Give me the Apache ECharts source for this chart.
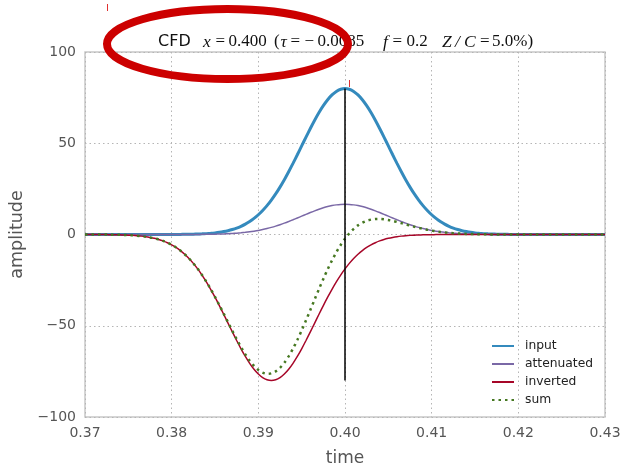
<!DOCTYPE html>
<html>
<head>
<meta charset="utf-8">
<script src="https://cdn.jsdelivr.net/npm/echarts@6/dist/echarts.min.js"></script>
<style>
  html, body { margin: 0; padding: 0; background: #fff; }
  #chart { width: 623px; height: 470px; }
</style>
</head>
<body>
<div id="chart"></div>
<script>
// sample times (s), every 0.0005
const times = [
  0.3700, 0.3705, 0.3710, 0.3715, 0.3720, 0.3725, 0.3730, 0.3735, 0.3740, 0.3745,
  0.3750, 0.3755, 0.3760, 0.3765, 0.3770, 0.3775, 0.3780, 0.3785, 0.3790, 0.3795,
  0.3800, 0.3805, 0.3810, 0.3815, 0.3820, 0.3825, 0.3830, 0.3835, 0.3840, 0.3845,
  0.3850, 0.3855, 0.3860, 0.3865, 0.3870, 0.3875, 0.3880, 0.3885, 0.3890, 0.3895,
  0.3900, 0.3905, 0.3910, 0.3915, 0.3920, 0.3925, 0.3930, 0.3935, 0.3940, 0.3945,
  0.3950, 0.3955, 0.3960, 0.3965, 0.3970, 0.3975, 0.3980, 0.3985, 0.3990, 0.3995,
  0.4000, 0.4005, 0.4010, 0.4015, 0.4020, 0.4025, 0.4030, 0.4035, 0.4040, 0.4045,
  0.4050, 0.4055, 0.4060, 0.4065, 0.4070, 0.4075, 0.4080, 0.4085, 0.4090, 0.4095,
  0.4100, 0.4105, 0.4110, 0.4115, 0.4120, 0.4125, 0.4130, 0.4135, 0.4140, 0.4145,
  0.4150, 0.4155, 0.4160, 0.4165, 0.4170, 0.4175, 0.4180, 0.4185, 0.4190, 0.4195,
  0.4200, 0.4205, 0.4210, 0.4215, 0.4220, 0.4225, 0.4230, 0.4235, 0.4240, 0.4245,
  0.4250, 0.4255, 0.4260, 0.4265, 0.4270, 0.4275, 0.4280, 0.4285, 0.4290, 0.4295,
  0.4300
]
const inputValues = [
  0, 0, 0, 0, 0, 0, 0, 0, 0, 0,
  0, 0, 0, 0, 0, 0, 0, 0, 0.01, 0.02,
  0.03, 0.04, 0.06, 0.09, 0.12, 0.18, 0.25, 0.35, 0.48, 0.66,
  0.89, 1.19, 1.59, 2.09, 2.72, 3.51, 4.49, 5.68, 7.11, 8.82,
  10.83, 13.16, 15.83, 18.86, 22.24, 25.97, 30.02, 34.37, 38.94, 43.69,
  48.52, 53.36, 58.09, 62.62, 66.83, 70.60, 73.85, 76.48, 78.42, 79.60,
  80.00, 79.60, 78.42, 76.48, 73.85, 70.60, 66.83, 62.62, 58.09, 53.36,
  48.52, 43.69, 38.94, 34.37, 30.02, 25.97, 22.24, 18.86, 15.83, 13.16,
  10.83, 8.82, 7.11, 5.68, 4.49, 3.51, 2.72, 2.09, 1.59, 1.19,
  0.89, 0.66, 0.48, 0.35, 0.25, 0.18, 0.12, 0.09, 0.06, 0.04,
  0.03, 0.02, 0.01, 0, 0, 0, 0, 0, 0, 0,
  0, 0, 0, 0, 0, 0, 0, 0, 0, 0,
  0
]
const attenuatedValues = [
  0, 0, 0, 0, 0, 0, 0, 0, 0, 0,
  0, 0, 0, 0, 0, 0, 0, 0, 0, 0,
  0.01, 0.01, 0.01, 0.02, 0.02, 0.04, 0.05, 0.07, 0.10, 0.14,
  0.18, 0.25, 0.33, 0.43, 0.56, 0.73, 0.93, 1.18, 1.47, 1.83,
  2.24, 2.72, 3.28, 3.90, 4.60, 5.38, 6.21, 7.11, 8.06, 9.04,
  10.04, 11.05, 12.02, 12.96, 13.83, 14.61, 15.29, 15.83, 16.23, 16.48,
  16.56, 16.48, 16.23, 15.83, 15.29, 14.61, 13.83, 12.96, 12.02, 11.05,
  10.04, 9.04, 8.06, 7.11, 6.21, 5.38, 4.60, 3.90, 3.28, 2.72,
  2.24, 1.83, 1.47, 1.18, 0.93, 0.73, 0.56, 0.43, 0.33, 0.25,
  0.18, 0.14, 0.10, 0.07, 0.05, 0.04, 0.02, 0.02, 0.01, 0.01,
  0.01, 0, 0, 0, 0, 0, 0, 0, 0, 0,
  0, 0, 0, 0, 0, 0, 0, 0, 0, 0,
  0
]
const invertedValues = [
  0, -0.01, -0.02, -0.03, -0.04, -0.06, -0.09, -0.12, -0.18, -0.25,
  -0.35, -0.48, -0.66, -0.89, -1.19, -1.59, -2.09, -2.72, -3.51, -4.49,
  -5.68, -7.11, -8.82, -10.83, -13.16, -15.83, -18.86, -22.24, -25.97, -30.02,
  -34.37, -38.94, -43.69, -48.52, -53.36, -58.09, -62.62, -66.83, -70.60, -73.85,
  -76.48, -78.42, -79.60, -80.00, -79.60, -78.42, -76.48, -73.85, -70.60, -66.83,
  -62.62, -58.09, -53.36, -48.52, -43.69, -38.94, -34.37, -30.02, -25.97, -22.24,
  -18.86, -15.83, -13.16, -10.83, -8.82, -7.11, -5.68, -4.49, -3.51, -2.72,
  -2.09, -1.59, -1.19, -0.89, -0.66, -0.48, -0.35, -0.25, -0.18, -0.12,
  -0.09, -0.06, -0.04, -0.03, -0.02, -0.01, 0, 0, 0, 0,
  0, 0, 0, 0, 0, 0, 0, 0, 0, 0,
  0, 0, 0, 0, 0, 0, 0, 0, 0, 0,
  0, 0, 0, 0, 0, 0, 0, 0, 0, 0,
  0
]
const sumValues = [
  0, -0.01, -0.02, -0.03, -0.04, -0.06, -0.09, -0.12, -0.18, -0.25,
  -0.35, -0.48, -0.66, -0.89, -1.19, -1.59, -2.09, -2.72, -3.51, -4.49,
  -5.67, -7.10, -8.81, -10.81, -13.14, -15.79, -18.81, -22.17, -25.87, -29.88,
  -34.19, -38.69, -43.36, -48.09, -52.80, -57.36, -61.69, -65.65, -69.13, -72.02,
  -74.24, -75.70, -76.32, -76.10, -75.00, -73.04, -70.27, -66.74, -62.54, -57.79,
  -52.58, -47.04, -41.34, -35.56, -29.86, -24.33, -19.08, -14.19, -9.74, -5.76,
  -2.30, 0.65, 3.07, 5.00, 6.47, 7.50, 8.15, 8.47, 8.51, 8.33,
  7.95, 7.45, 6.87, 6.22, 5.55, 4.90, 4.25, 3.65, 3.10, 2.60,
  2.15, 1.77, 1.43, 1.15, 0.91, 0.72, 0.56, 0.43, 0.33, 0.25,
  0.18, 0.14, 0.10, 0.07, 0.05, 0.04, 0.02, 0.02, 0.01, 0.01,
  0.01, 0, 0, 0, 0, 0, 0, 0, 0, 0,
  0, 0, 0, 0, 0, 0, 0, 0, 0, 0,
  0
]
// crossing marker
const crossTime = 0.400
const crossRange = [80, -80]

const legendNames = ['input', 'attenuated', 'inverted', 'sum']
const xTicks = { min: 0.37, max: 0.43, step: 0.01 }
const yTicks = { min: -100, max: 100, step: 50 }

// title pieces: [text, left x, style key]
const titleParts = [
  ['CFD', 158, 'sans'],
  ['x', 203, 'it'],
  ['=', 215.5, 'rm'],
  ['0.400', 228.5, 'rm'],
  ['(', 274, 'rm'],
  ['\u03c4', 280.5, 'it'],
  ['=', 290.5, 'rm'],
  ['\u2212', 304.5, 'rm'],
  ['0.0085', 317.5, 'rm'],
  ['f', 383, 'it'],
  ['=', 392.5, 'rm'],
  ['0.2', 406.5, 'rm'],
  ['Z', 442, 'it'],
  ['/', 455, 'it'],
  ['C', 464, 'it'],
  ['=', 480, 'rm'],
  ['5.0%)', 492, 'rm'],
]

const pair = (vals) => times.map((t, i) => [t, vals[i]])

const chart = echarts.init(document.getElementById('chart'))

const gridLine = {
  show: true,
  lineStyle: { color: '#b5b5b5', width: 1, type: [1.5, 3] },
}

const fonts = {
  sans: { fontFamily: 'DejaVu Sans', fontSize: 16 },
  it: { fontFamily: 'Liberation Serif', fontStyle: 'italic', fontSize: 17.5 },
  rm: { fontFamily: 'Liberation Serif', fontSize: 17 },
}

const titleGraphics = titleParts.map(([txt, x, f]) => ({
  type: 'text',
  x: x,
  y: 42,
  z: 50,
  style: Object.assign({ text: txt, fill: '#111', verticalAlign: 'middle', align: 'left' }, fonts[f]),
}))

const option = {
  animation: false,
  backgroundColor: '#fff',
  grid: {
    left: 85,
    right: 18,
    top: 52,
    bottom: 53,
    outerBoundsMode: 'none',
    show: true,
    borderColor: '#c8c8c8',
    borderWidth: 1.5,
    backgroundColor: '#fff',
  },
  legend: {
    data: legendNames,
    orient: 'vertical',
    left: 486,
    top: 335,
    itemWidth: 22,
    itemHeight: 14,
    itemGap: 6,
    selectedMode: false,
    itemStyle: { opacity: 0 },
    textStyle: {
      fontFamily: 'DejaVu Sans',
      fontSize: 12.3,
      color: '#222',
      padding: [0, 0, 0, 6],
    },
  },
  xAxis: {
    type: 'value',
    min: xTicks.min,
    max: xTicks.max,
    interval: xTicks.step,
    name: 'time',
    nameLocation: 'middle',
    nameGap: 33,
    nameTextStyle: { fontFamily: 'DejaVu Sans', fontSize: 17, color: '#555' },
    axisLine: { show: false },
    axisTick: { show: false },
    axisLabel: {
      fontFamily: 'DejaVu Sans',
      fontSize: 14,
      color: '#555',
      margin: 9,
      formatter: (v) => v.toFixed(2),
    },
    splitLine: gridLine,
  },
  yAxis: {
    type: 'value',
    min: yTicks.min,
    max: yTicks.max,
    interval: yTicks.step,
    name: 'amplitude',
    nameLocation: 'middle',
    nameGap: 52,
    nameTextStyle: { fontFamily: 'DejaVu Sans', fontSize: 17.5, color: '#555' },
    axisLine: { show: false },
    axisTick: { show: false },
    axisLabel: {
      fontFamily: 'DejaVu Sans',
      fontSize: 14,
      color: '#555',
      margin: 9,
      formatter: (v) => String(v).replace('-', '\u2212'),
    },
    splitLine: gridLine,
  },
  series: [
    {
      name: 'input',
      type: 'line',
      data: pair(inputValues),
      smooth: 0.3,
      symbol: 'none',
      lineStyle: { color: '#348ABD', width: 3 },
      itemStyle: { color: '#348ABD' },
      z: 2,
    },
    {
      name: 'attenuated',
      type: 'line',
      data: pair(attenuatedValues),
      smooth: 0.3,
      symbol: 'none',
      lineStyle: { color: '#7A68A6', width: 1.5 },
      itemStyle: { color: '#7A68A6' },
      z: 3,
    },
    {
      name: 'inverted',
      type: 'line',
      data: pair(invertedValues),
      smooth: 0.3,
      symbol: 'none',
      lineStyle: { color: '#A60628', width: 1.5 },
      itemStyle: { color: '#A60628' },
      z: 4,
    },
    {
      name: 'sum',
      type: 'line',
      data: pair(sumValues),
      smooth: 0.3,
      symbol: 'none',
      lineStyle: { color: '#467821', width: 2.5, type: [2.5, 4], cap: 'butt' },
      itemStyle: { color: '#467821' },
      z: 5,
    },
    {
      name: 'crossing',
      type: 'line',
      data: crossRange.map((v) => [crossTime, v]),
      symbol: 'none',
      lineStyle: { color: '#000', width: 1.5 },
      z: 6,
    },
  ],
  graphic: titleGraphics.concat([
    {
      type: 'ellipse',
      z: 100,
      shape: { cx: 227.5, cy: 44, rx: 120.5, ry: 35 },
      style: { fill: null, stroke: '#cc0000', lineWidth: 8 },
    },
    {
      type: 'line',
      z: 100,
      shape: { x1: 107.5, y1: 4, x2: 107.5, y2: 11 },
      style: { stroke: '#e03030', lineWidth: 1 },
    },
    {
      type: 'line',
      z: 100,
      shape: { x1: 349.5, y1: 80, x2: 349.5, y2: 87 },
      style: { stroke: '#e03030', lineWidth: 1 },
    },
  ]),
}

chart.setOption(option)
</script>
</body>
</html>
